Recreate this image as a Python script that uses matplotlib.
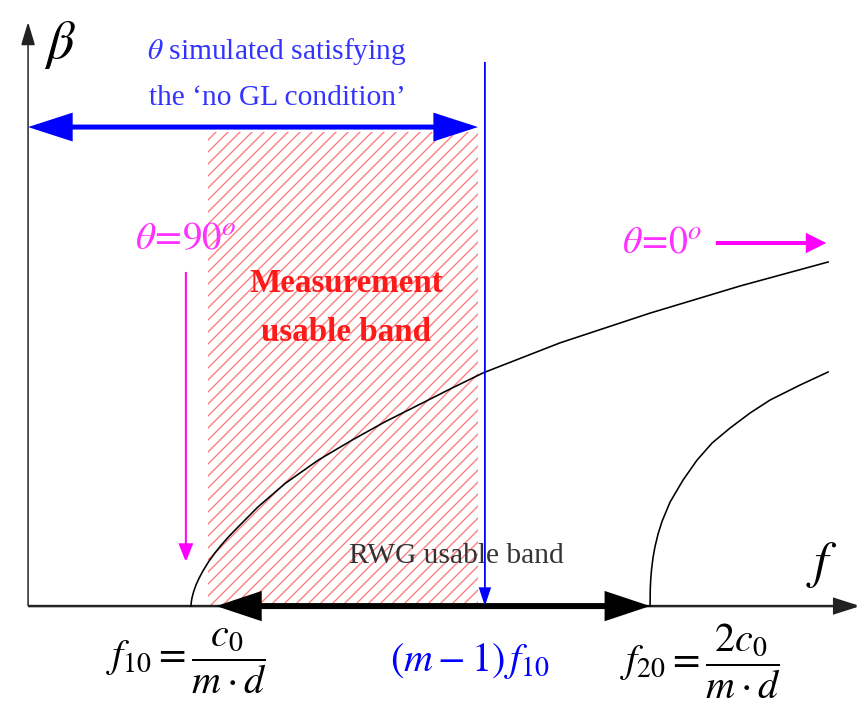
import matplotlib
matplotlib.use('Agg')
import matplotlib.pyplot as plt
from matplotlib.patches import FancyArrowPatch, Rectangle

plt.rcParams['mathtext.fontset'] = 'stix'
plt.rcParams['font.family'] = ['Liberation Serif', 'DejaVu Serif']
plt.rcParams['hatch.linewidth'] = 1.4

# frequency in units of f10, beta in arbitrary units
mode1_f = [1.0022, 1.0028, 1.0043, 1.0076, 1.0130, 1.0196, 1.0283, 1.0398,
           1.0543, 1.0689, 1.0848, 1.1050, 1.148, 1.207, 1.279, 1.352,
           1.424, 1.496, 1.569, 1.638, 1.804, 2.000, 2.196, 2.387]
mode1_beta = [0.000, 0.0137, 0.0279, 0.0479, 0.0723, 0.0952, 0.1209, 0.1503,
              0.1822, 0.2106, 0.2390, 0.2716, 0.340, 0.420, 0.500, 0.568,
              0.631, 0.688, 0.746, 0.799, 0.901, 1.003, 1.096, 1.178]
mode2_f = [2.000, 2.0004, 2.0015, 2.0033, 2.0065, 2.0109, 2.0174, 2.0261,
           2.0435, 2.0717, 2.1022, 2.1348, 2.1739, 2.2174, 2.2609, 2.3261,
           2.3870]
mode2_beta = [0.000, 0.0565, 0.0932, 0.1264, 0.1668, 0.2048, 0.2469, 0.2904,
              0.3562, 0.4315, 0.5000, 0.5582, 0.6096, 0.6610, 0.7055, 0.7568,
              0.8014]

f10 = 1.0
f20 = 2.0
f_m1 = 1.641          # (m-1) f10
f_origin = 0.648
f_end = 2.457
beta_end = 2.0
band_f = [1.039, 1.626]   # measurement usable band
band_top = 1.623
rwg_f = [1.057, 2.0]      # RWG usable band
gl_beta = 1.64            # 'no GL' arrow height
gl_f = [f_origin, 1.626]
blue_top = 1.863
theta90_f = 0.991
theta90_beta = [1.144, 0.151]
theta0_beta = 1.243
theta0_f = [2.143, 2.383]

fig = plt.figure(figsize=(864 / 72, 701 / 72), dpi=72)
ax = fig.add_axes([0, 0, 1, 1])
ax.set_xlim(0.587, 2.465)
ax.set_ylim(-0.325, 2.075)
ax.axis('off')


def arrow(p0, p1, style, color, lw, z=3):
    ax.add_patch(FancyArrowPatch(p0, p1, arrowstyle=style, color=color, lw=lw,
                                 shrinkA=0, shrinkB=0, mutation_scale=1,
                                 joinstyle='miter', capstyle='butt', zorder=z))


# hatched band
ax.add_patch(Rectangle((band_f[0], 0), band_f[1] - band_f[0], band_top,
                       facecolor='none', edgecolor='#ff8080', hatch='//',
                       lw=0, zorder=1))

# axes
arrow((f_origin, 0), (f_end, 0), '-|>,head_length=22,head_width=7', '#222222', 2.5)
arrow((f_origin, 0), (f_origin, beta_end), '-|>,head_length=20,head_width=6', '#222222', 1.5)

# dispersion curves
ax.plot(mode1_f, mode1_beta, color='black', lw=1.6, zorder=4,
        solid_joinstyle='round')
ax.plot(mode2_f, mode2_beta, color='black', lw=1.6, zorder=4,
        solid_joinstyle='round')

# RWG usable band arrow
arrow((rwg_f[0], 0), (rwg_f[1], 0), '<|-|>,head_length=33,head_width=11', 'black', 6, z=5)

# no GL condition arrow
arrow((gl_f[0], gl_beta), (gl_f[1], gl_beta), '<|-|>,head_length=34,head_width=11', '#0000ff', 5)

# (m-1) f10 line
arrow((f_m1, blue_top), (f_m1, 0), '-|>,head_length=15,head_width=5', '#0000ff', 1.8, z=6)

# theta arrows
arrow((theta90_f, theta90_beta[0]), (theta90_f, theta90_beta[1]),
      '-|>,head_length=15,head_width=6', '#ff00ff', 2)
arrow((theta0_f[0], theta0_beta), (theta0_f[1], theta0_beta),
      '-|>,head_length=14,head_width=7', '#ff00ff', 4)

# texts
ax.text(0.717, 1.921, r'$\beta$', fontsize=54, ha='center', va='center')
ax.text(2.374, 0.140, r'$f$', fontsize=52, ha='center', va='center')
ax.text(1.189, 1.897, r'$\theta$ simulated satisfying', fontsize=29.5,
        color='#3333ff', ha='center', va='center')
ax.text(1.189, 1.740, 'the \u2018no GL condition\u2019', fontsize=29.5,
        color='#3333ff', ha='center', va='center')
ax.text(0.880, 1.253, r'$\theta\!=\!\mathit{90}^{o}$', fontsize=39,
        color='#ff33ff', ha='left', va='center')
ax.text(1.939, 1.243, r'$\theta\!=\!\mathit{0}^{o}$', fontsize=38,
        color='#ff33ff', ha='left', va='center')
ax.text(1.339, 1.106, 'Measurement', fontsize=33, fontweight='bold',
        color='#ff1a1a', ha='center', va='center')
ax.text(1.339, 0.935, 'usable band', fontsize=33, fontweight='bold',
        color='#ff1a1a', ha='center', va='center')
ax.text(1.580, 0.171, 'RWG usable band', fontsize=29.5, color='#333333',
        ha='center', va='center', zorder=5)
ax.text(0.993, -0.188, r'$f_{10}=\dfrac{c_0}{m\cdot d}$', fontsize=40,
        ha='center', va='center')
ax.text(1.609, -0.188, r'$\left(m-1\right)\,f_{10}$', fontsize=40,
        color='#0000ff', ha='center', va='center')
ax.text(2.109, -0.188, r'$f_{20}=\dfrac{2c_0}{m\cdot d}$', fontsize=40,
        ha='center', va='center')

fig.savefig('out.png', dpi=72)
